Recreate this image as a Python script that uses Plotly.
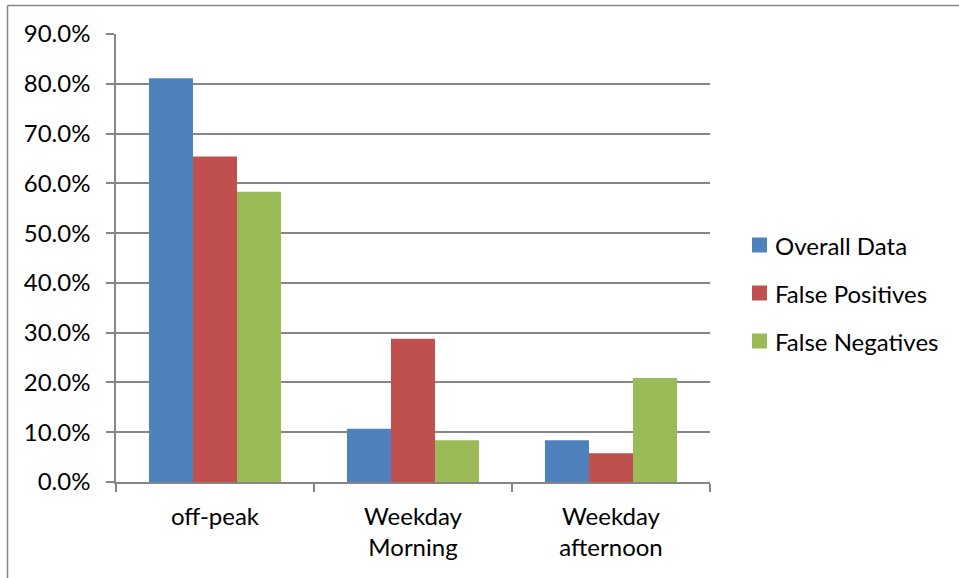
import plotly.graph_objects as go

categories = ["off-peak", "Weekday<br>Morning", "Weekday<br>afternoon"]
series_names = ["Overall Data", "False Positives", "False Negatives"]
overall_data = [0.811, 0.107, 0.084]
false_positives = [0.654, 0.288, 0.058]
false_negatives = [0.583, 0.084, 0.209]
series_colors = ["#4F81BD", "#C0504D", "#9BBB59"]
y_ticks = [0.0, 0.1, 0.2, 0.3, 0.4, 0.5, 0.6, 0.7, 0.8, 0.9]

W, H = 959, 578
L, R, T, B = 116, 249, 34, 96
PW, PH = W - L - R, H - T - B

FONT = "Lato"
FSIZE = 24
GRID = "#868686"

fig = go.Figure()
for name, vals, col in zip(series_names, [overall_data, false_positives, false_negatives], series_colors):
    fig.add_trace(go.Bar(
        x=categories, y=vals, name=name, marker=dict(color=col, line=dict(width=0)),
        showlegend=False,
    ))

fig.update_layout(
    width=W, height=H,
    margin=dict(l=L, r=R, t=T, b=B),
    paper_bgcolor="white", plot_bgcolor="white",
    barmode="group", bargap=0.333, bargroupgap=0,
    font=dict(family=FONT, size=FSIZE, color="black"),
)
fig.update_yaxes(
    range=[0, 0.9], tickvals=y_ticks, tickformat=".1%",
    showgrid=True, gridcolor=GRID, gridwidth=1.5,
    showline=True, linecolor=GRID, linewidth=1.5,
    ticks="outside", ticklen=8, tickcolor=GRID, tickwidth=1.5,
    ticklabelstandoff=11, zeroline=False,
    tickfont=dict(family=FONT, size=FSIZE, color="black"),
)
fig.update_xaxes(
    showline=True, linecolor=GRID, linewidth=1.5,
    ticks="outside", ticklen=8, tickcolor=GRID, tickwidth=1.5,
    tickson="boundaries", ticklabelstandoff=12,
    tickfont=dict(family=FONT, size=FSIZE, color="black"),
)

def px_x(x):
    return (x - L) / PW

def px_y(y):
    return (H - B - y) / PH

shapes = [
    # outer frame (top and left edges)
    dict(type="line", xref="paper", yref="paper", x0=px_x(7.5), x1=px_x(W + 5), y0=px_y(5.5), y1=px_y(5.5),
         line=dict(color="#868686", width=1.5)),
    dict(type="line", xref="paper", yref="paper", x0=px_x(7.5), x1=px_x(7.5), y0=px_y(5.5), y1=px_y(H + 5),
         line=dict(color="#868686", width=1.5)),
]
annotations = []
legend_y = [245, 293, 341]
for name, col, yc in zip(series_names, series_colors, legend_y):
    shapes.append(dict(type="rect", xref="paper", yref="paper",
                       x0=px_x(752), x1=px_x(767), y0=px_y(yc - 7.5), y1=px_y(yc + 7.5),
                       fillcolor=col, line=dict(width=0)))
    annotations.append(dict(xref="paper", yref="paper", x=px_x(773), y=px_y(yc),
                            xanchor="left", yanchor="middle", text=name, showarrow=False,
                            font=dict(family=FONT, size=FSIZE, color="black")))
fig.update_layout(shapes=shapes, annotations=annotations)

fig.write_html("out.html")
